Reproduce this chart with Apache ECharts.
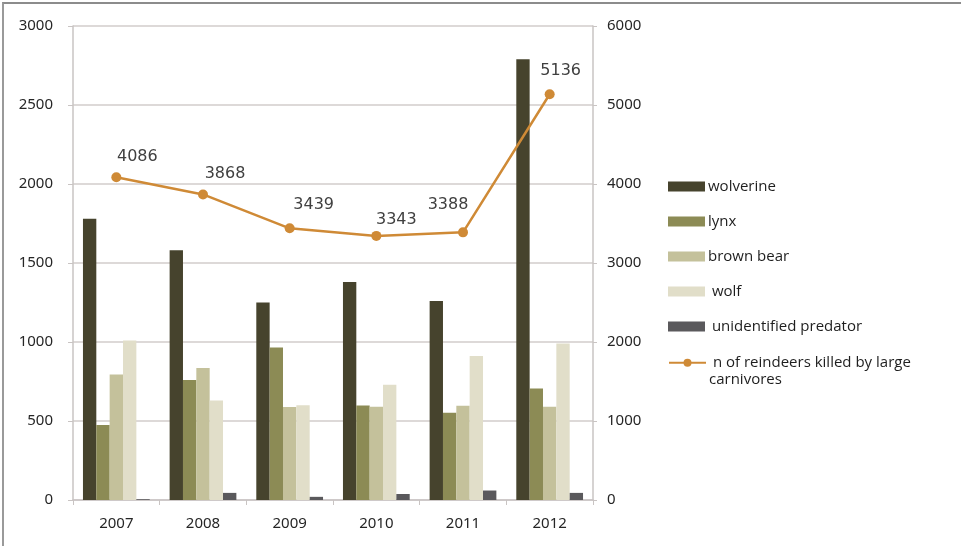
<!DOCTYPE html>
<html>
<head>
<meta charset="utf-8">
<script src="https://cdn.jsdelivr.net/npm/echarts@6/dist/echarts.min.js"></script>
<style>
  html, body { margin: 0; padding: 0; background: #fff; }
  #frame { position: absolute; left: 0; top: 0; width: 961px; height: 546px; }
  #edge { position: absolute; left: 2px; top: 2px; width: 959px; height: 544px;
          border-top: 2px solid #8c8c8c; border-left: 2px solid #9a9a9a; box-sizing: border-box; pointer-events: none; }
  #chart { position: absolute; left: 0; top: 0; width: 961px; height: 546px; }
</style>
</head>
<body>
<div id="frame">
  <div id="chart"></div>
  <div id="edge"></div>
</div>
<script>
// Years on the category axis
const years = ['2007', '2008', '2009', '2010', '2011', '2012'];

// Reindeer losses per predator (left axis)
const wolverine = [1780, 1580, 1250, 1380, 1260, 2790];
const lynx = [475, 760, 965, 598, 552, 705];
const brownBear = [795, 835, 588, 590, 597, 590];
const wolf = [1010, 630, 600, 730, 912, 990];
const unidentified = [5, 45, 20, 38, 60, 45];

// Total reindeers killed by large carnivores (right axis)
const totalKilled = [4086, 3868, 3439, 3343, 3388, 5136];

// Left / right axis ranges
const leftAxis = { min: 0, max: 3000, step: 500 };
const rightAxis = { min: 0, max: 6000, step: 1000 };

// Where each total label sits relative to its point
const totalLabelShift = [[21, -20], [22, -21], [24, -23], [20, -16], [-15, -28], [11, -23]];

const axisFont = 'Noto Sans';
const legendFont = 'Open Sans';

const barSeries = [
  { name: 'wolverine', data: wolverine, color: '#46432d' },
  { name: 'lynx', data: lynx, color: '#8c8b55' },
  { name: 'brown bear', data: brownBear, color: '#c4c19b' },
  { name: ' wolf', data: wolf, color: '#e1dec9' },
  { name: ' unidentified predator', data: unidentified, color: '#5a595c' }
].map(s => ({
  name: s.name,
  type: 'bar',
  yAxisIndex: 0,
  data: s.data,
  barGap: '0%',
  barCategoryGap: '23%',
  itemStyle: { color: s.color },
  emphasis: { disabled: true }
}));

const lineName = ' n of reindeers killed by large\ncarnivores';
const lineSeries = {
  name: lineName,
  type: 'line',
  yAxisIndex: 1,
  data: totalKilled.map((v, i) => ({
    value: v,
    label: { offset: totalLabelShift[i] }
  })),
  symbol: 'circle',
  symbolSize: 10,
  lineStyle: { color: '#cf8a36', width: 2.5 },
  itemStyle: { color: '#cf8a36' },
  label: {
    show: true,
    position: 'inside',
    fontFamily: 'DejaVu Sans',
    fontSize: 16,
    color: '#404040',
    formatter: p => String(p.value)
  },
  z: 5,
  emphasis: { disabled: true }
};

const plainNumber = v => String(v);

const chart = echarts.init(document.getElementById('chart'), null, { renderer: 'canvas' });

chart.setOption({
  animation: false,
  backgroundColor: '#fff',
  grid: { left: 73, right: 368, top: 26, bottom: 46, containLabel: false },
  legend: [
    {
      data: barSeries.map(s => s.name),
      orient: 'vertical',
      left: 668,
      top: 178,
      padding: 0,
      itemWidth: 37,
      itemHeight: 10,
      itemGap: 18,
      icon: 'rect',
      selectedMode: false,
      textStyle: { fontFamily: legendFont, fontSize: 15, color: '#1e1e1e', lineHeight: 17, padding: [0, 0, 0, -2] }
    },
    {
      data: [lineName],
      orient: 'vertical',
      left: 668,
      top: 338,
      padding: 0,
      itemWidth: 37,
      itemHeight: 10,
      selectedMode: false,
      // blank first row keeps the marker level with the first line of text
      formatter: name => ' \n' + name,
      textStyle: { fontFamily: legendFont, fontSize: 15, color: '#1e1e1e', lineHeight: 16.5, padding: [0, 0, 0, -2] }
    }
  ],
  xAxis: {
    type: 'category',
    data: years,
    axisLine: { show: true, lineStyle: { color: '#c9c4c3', width: 1.5 } },
    axisTick: { show: true, length: 5, lineStyle: { color: '#c9c4c3' } },
    axisLabel: { fontFamily: axisFont, fontSize: 15, color: '#262626', margin: 16 }
  },
  yAxis: [
    {
      type: 'value',
      min: leftAxis.min, max: leftAxis.max, interval: leftAxis.step,
      axisLine: { show: true, lineStyle: { color: '#c9c4c3', width: 1.5 } },
      axisTick: { show: true, length: 5, lineStyle: { color: '#c9c4c3' } },
      axisLabel: { fontFamily: axisFont, fontSize: 15, color: '#262626', margin: 20, formatter: plainNumber },
      splitLine: { show: true, lineStyle: { color: '#d2cdcb', width: 1.5 } }
    },
    {
      type: 'value',
      min: rightAxis.min, max: rightAxis.max, interval: rightAxis.step,
      position: 'right',
      axisLine: { show: true, lineStyle: { color: '#c9c4c3', width: 1.5 } },
      axisTick: { show: true, length: 4, lineStyle: { color: '#c9c4c3' } },
      axisLabel: { fontFamily: axisFont, fontSize: 15, color: '#262626', margin: 14, formatter: plainNumber },
      splitLine: { show: false }
    }
  ],
  series: [...barSeries, lineSeries]
});
</script>
</body>
</html>
